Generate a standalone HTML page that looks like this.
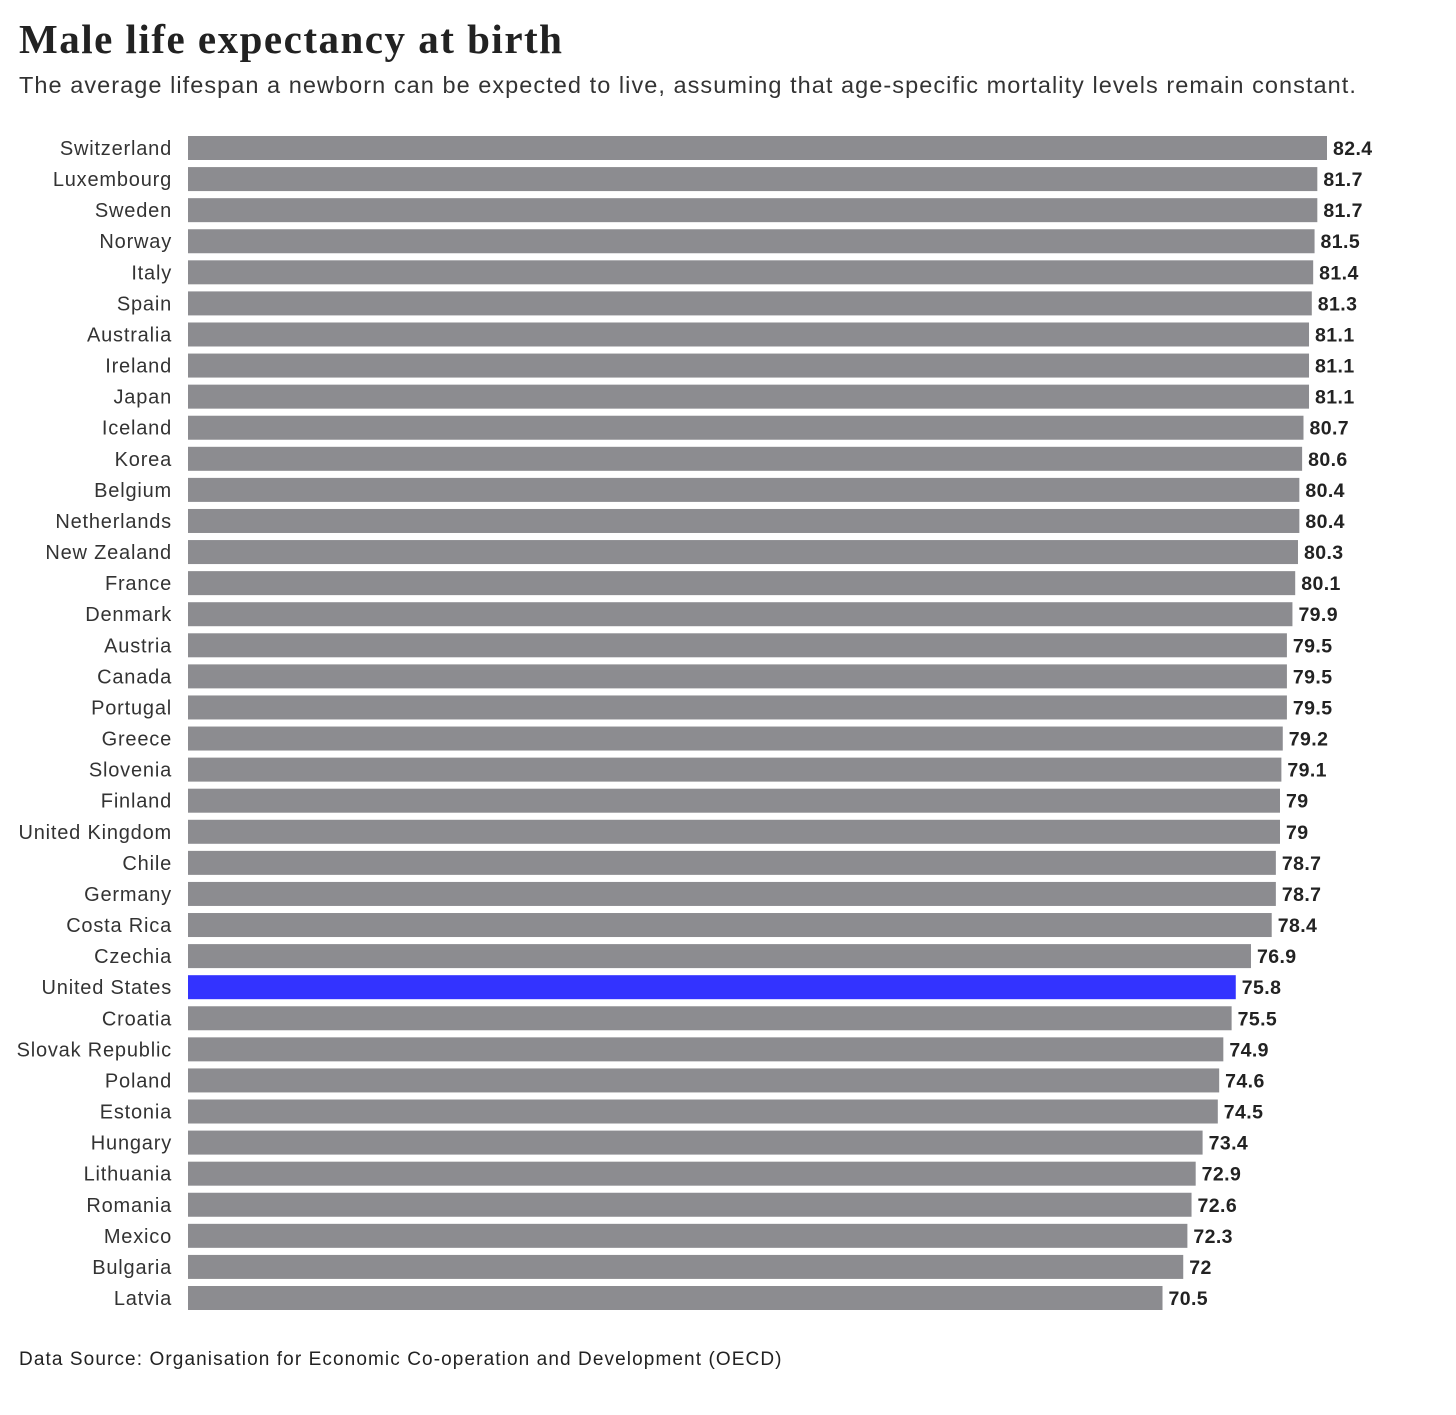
<!DOCTYPE html>
<html><head><meta charset="utf-8"><style>
body{margin:0;background:#fff;width:1456px;height:1415px;overflow:hidden;font-family:"Liberation Sans",sans-serif;}
#title{position:absolute;left:19px;top:15px;font-family:"Liberation Serif",serif;font-weight:bold;font-size:41px;letter-spacing:1.5px;color:#222;margin:0}
#sub{position:absolute;left:19px;top:72px;font-size:23.5px;letter-spacing:1.05px;color:#333;margin:0}
#src{position:absolute;left:19px;top:1349px;font-size:19px;letter-spacing:1.1px;color:#222;margin:0}
svg{position:absolute;left:0;top:0}
</style></head><body>
<h1 id="title">Male life expectancy at birth</h1>
<p id="sub">The average lifespan a newborn can be expected to live, assuming that age-specific mortality levels remain constant.</p>
<svg id="chart" width="1456" height="1415"></svg>
<p id="src">Data Source: Organisation for Economic Co-operation and Development (OECD)</p>
<script>
const countries=["Switzerland","Luxembourg","Sweden","Norway","Italy","Spain","Australia","Ireland","Japan","Iceland","Korea","Belgium","Netherlands","New Zealand","France","Denmark","Austria","Canada","Portugal","Greece","Slovenia","Finland","United Kingdom","Chile","Germany","Costa Rica","Czechia","United States","Croatia","Slovak Republic","Poland","Estonia","Hungary","Lithuania","Romania","Mexico","Bulgaria","Latvia"];
const values=[82.4,81.7,81.7,81.5,81.4,81.3,81.1,81.1,81.1,80.7,80.6,80.4,80.4,80.3,80.1,79.9,79.5,79.5,79.5,79.2,79.1,79,79,78.7,78.7,78.4,76.9,75.8,75.5,74.9,74.6,74.5,73.4,72.9,72.6,72.3,72,70.5];
const highlight="United States";
const NS="http://www.w3.org/2000/svg";
const svg=document.getElementById('chart');
const x0=188, k=1139/82.4;
const xs=v=>x0+v*k;
const y0=148, step=(1298-148)/(countries.length-1);
const ys=i=>y0+i*step;
countries.forEach((c,i)=>{
  const y=ys(i);
  const r=document.createElementNS(NS,'rect');
  r.setAttribute('x',x0);r.setAttribute('y',y-12);
  r.setAttribute('width',xs(values[i])-x0);r.setAttribute('height',24);
  r.setAttribute('fill',c===highlight?'#3333ff':'#8c8c90');
  
  
  svg.appendChild(r);
  const t=document.createElementNS(NS,'text');
  t.setAttribute('x',172);t.setAttribute('y',y+7);t.setAttribute('text-anchor','end');
  t.setAttribute('font-size','20');t.setAttribute('letter-spacing','0.8');t.setAttribute('fill','#333');
  t.textContent=c;
  
  
  svg.appendChild(t);
  const v=document.createElementNS(NS,'text');
  v.setAttribute('x',xs(values[i])+6);v.setAttribute('y',y+7);
  v.setAttribute('font-size','19.5');v.setAttribute('font-weight','bold');v.setAttribute('letter-spacing','0.4');v.setAttribute('fill','#222');
  v.textContent=values[i];
  
  
  svg.appendChild(v);
});
</script>
</body></html>
